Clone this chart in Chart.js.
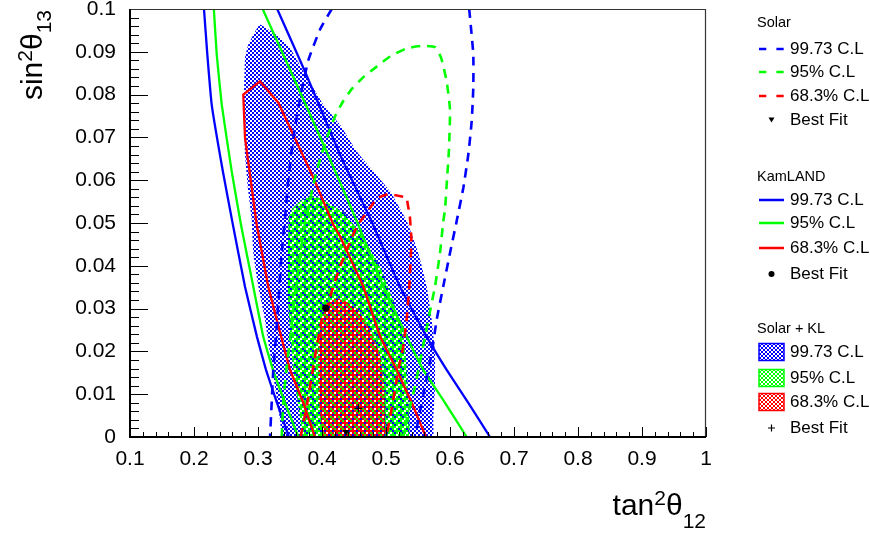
<!DOCTYPE html>
<html>
<head>
<meta charset="utf-8">
<script src="https://cdn.jsdelivr.net/npm/chart.js@4/dist/chart.umd.min.js"></script>
<style>
html,body{margin:0;padding:0;background:#fff;}
#wrap{position:relative;width:870px;height:533px;font-family:'Liberation Sans',Arial,Helvetica,sans-serif;color:#000;overflow:hidden;}
#c{position:absolute;left:0;top:0;}
.ttl{position:absolute;font-size:30px;line-height:30px;white-space:nowrap;}
.ttl .sp{font-size:0.7em;line-height:0;position:relative;top:-0.48em;}
.ttl .sb{font-size:0.7em;line-height:0;position:relative;top:0.62em;}
#ytitle{left:16.6px;top:210px;width:200px;text-align:right;transform-origin:0 0;transform:rotate(-90deg);}
#ytitle .sb{top:0.42em;}
#xtitle{right:164px;top:490px;}
.lg{position:absolute;white-space:nowrap;line-height:20px;}
.lgh{font-size:14.5px;}
.lgr{font-size:17px;}
.sw{position:absolute;}
</style>
</head>
<body>
<div id="wrap">
  <canvas id="c" width="870" height="533"></canvas>
  <div id="ytitle" class="ttl">sin<span class="sp">2</span>θ<span class="sb">13</span></div>
  <div id="xtitle" class="ttl">tan<span class="sp">2</span>θ<span class="sb">12</span></div>
  <div id="legend"></div>
</div>
<script>
// ---------- axis ticks ----------
const xTickValues = [0.1, 0.2, 0.3, 0.4, 0.5, 0.6, 0.7, 0.8, 0.9, 1.0];
const xTickLabels = ['0.1', '0.2', '0.3', '0.4', '0.5', '0.6', '0.7', '0.8', '0.9', '1'];
const yTickValues = [0, 0.01, 0.02, 0.03, 0.04, 0.05, 0.06, 0.07, 0.08, 0.09, 0.1];
const yTickLabels = ['0', '0.01', '0.02', '0.03', '0.04', '0.05', '0.06', '0.07', '0.08', '0.09', '0.1'];

// ---------- Solar (dashed contours) [tan2theta12, sin2theta13] ----------
const solar997Left = [[0.4152,0.1],[0.3969,0.0952],[0.3786,0.0880],[0.3656,0.0790],[0.3552,0.0700],[0.3473,0.0600],[0.3422,0.0510],[0.3370,0.0430],[0.3317,0.0313],[0.3281,0.0234],[0.3239,0.0157],[0.3214,0.0080],[0.3188,0]];
const solar997Right = [[0.6300,0.1],[0.6364,0.0894],[0.6364,0.0816],[0.6339,0.0738],[0.6286,0.0660],[0.6208,0.0582],[0.6105,0.0505],[0.6000,0.0430],[0.5895,0.0352],[0.5792,0.0274],[0.5714,0.0196],[0.5609,0.0118],[0.5505,0.0040],[0.5453,0]];
const solar95 = [[0.3370,0],[0.3395,0.0080],[0.3445,0.0161],[0.3500,0.0227],[0.3563,0.0316],[0.3633,0.0395],[0.3711,0.0480],[0.3781,0.0531],[0.3859,0.0586],[0.3945,0.0636],[0.4073,0.0697],[0.4203,0.0749],[0.4328,0.0784],[0.4469,0.0814],[0.4656,0.0842],[0.4859,0.0866],[0.5063,0.0889],[0.5323,0.0908],[0.5578,0.0914],[0.5766,0.0911],[0.5859,0.0887],[0.5948,0.0831],[0.6000,0.0765],[0.5984,0.0672],[0.5953,0.0601],[0.5922,0.0531],[0.5895,0.0504],[0.5844,0.0430],[0.5766,0.0352],[0.5661,0.0274],[0.5558,0.0196],[0.5453,0.0118],[0.5323,0.0040],[0.5270,0]];
const solar683 = [[0.3665,0],[0.3761,0.0071],[0.3839,0.0141],[0.3917,0.0211],[0.3995,0.0274],[0.4098,0.0313],[0.4177,0.0352],[0.4281,0.0398],[0.4386,0.0437],[0.4542,0.0492],[0.4672,0.0519],[0.4855,0.0558],[0.5036,0.0568],[0.5323,0.0560],[0.5375,0.0512],[0.5396,0.0465],[0.5390,0.0430],[0.5364,0.0352],[0.5323,0.0274],[0.5270,0.0211],[0.5192,0.0157],[0.5114,0.0087],[0.5036,0.0024],[0.5011,0]];
const solarBest = [[0.4375,0.0012]];

// ---------- KamLAND (solid contours) ----------
const kl997Left = [[0.2156,0.1],[0.2208,0.0894],[0.2277,0.0776],[0.2453,0.0619],[0.2609,0.0495],[0.2797,0.0351],[0.2984,0.0234],[0.3125,0.0157],[0.3297,0.0080],[0.3484,0]];
const kl997Right = [[0.3300,0.1],[0.3734,0.0854],[0.4280,0.0660],[0.4777,0.0503],[0.5219,0.0351],[0.5636,0.0234],[0.5948,0.0157],[0.6286,0.0080],[0.6625,0]];
const kl95Left = [[0.2310,0.1],[0.2355,0.0894],[0.2433,0.0777],[0.2590,0.0620],[0.2734,0.0496],[0.2927,0.0351],[0.3083,0.0234],[0.3234,0.0157],[0.3422,0.0080],[0.3630,0]];
const kl95Right = [[0.3073,0.1],[0.3745,0.0777],[0.4250,0.0606],[0.4547,0.0503],[0.4958,0.0352],[0.5323,0.0235],[0.5583,0.0157],[0.5922,0.0080],[0.6261,0]];
const kl683 = [[0.3890,0],[0.3708,0.0080],[0.3500,0.0157],[0.3292,0.0274],[0.3161,0.0351],[0.2980,0.0496],[0.2797,0.0699],[0.2770,0.0800],[0.3031,0.0831],[0.3317,0.0781],[0.3864,0.0606],[0.4177,0.0496],[0.4281,0.0469],[0.4645,0.0352],[0.4906,0.0235],[0.5167,0.0157],[0.5402,0.0080],[0.5625,0]];
const klBest = [[0.4058,0.0301]];

// ---------- Solar + KL (filled regions) ----------
const comb997 = [[0.3370,0],[0.3344,0.0040],[0.3266,0.0118],[0.3188,0.0197],[0.3109,0.0274],[0.3005,0.0352],[0.2927,0.0430],[0.2902,0.0508],[0.2848,0.0574],[0.2797,0.0660],[0.2781,0.0777],[0.2797,0.0886],[0.2848,0.0917],[0.2953,0.0947],[0.3031,0.0964],[0.3292,0.0940],[0.3500,0.0909],[0.3708,0.0855],[0.4020,0.0777],[0.4281,0.0730],[0.4542,0.0667],[0.4802,0.0621],[0.5063,0.0574],[0.5323,0.0505],[0.5505,0.0430],[0.5636,0.0352],[0.5714,0.0274],[0.5766,0.0197],[0.5766,0.0118],[0.5739,0.0040],[0.5730,0]];
const comb95 = [[0.3703,0],[0.3656,0.0047],[0.3547,0.0164],[0.3469,0.0320],[0.3469,0.0437],[0.3484,0.0515],[0.3552,0.0536],[0.3688,0.0554],[0.3839,0.0562],[0.4000,0.0557],[0.4125,0.0543],[0.4328,0.0526],[0.4594,0.0477],[0.4906,0.0398],[0.5109,0.0320],[0.5266,0.0243],[0.5323,0.0164],[0.5348,0.0087],[0.5348,0]];
const comb683 = [[0.4021,0],[0.3953,0.0080],[0.3945,0.0157],[0.3953,0.0235],[0.4016,0.0283],[0.4098,0.0313],[0.4230,0.0324],[0.4359,0.0318],[0.4563,0.0297],[0.4750,0.0250],[0.4906,0.0192],[0.4969,0.0122],[0.4984,0.0040],[0.4984,0]];
const combBest = [[0.4568,0.0067]];

// ---------- legend texts ----------
const legendGroups = ['Solar', 'KamLAND', 'Solar + KL'];
const legendLabels = ['99.73 C.L', '95% C.L', '68.3% C.L', 'Best Fit'];

// ---------- fill textures (cells of 2x2 pixels, one char per cell) ----------
const BLUE = '#0000ff', GREEN = '#00ff00', RED = '#ff0000';
const pal = {B: BLUE, G: GREEN, R: RED, W: '#ffffff'};
const tileBlue  = ['BW', 'WB'];
const tileGreen = ['GBGW', 'GGWG', 'GWGB', 'BGGG'];
const tileRed   = ['RGRW', 'BRGR', 'RWRG', 'RRBR'];
const keyGreen  = ['GW', 'WG'];
const keyRed    = ['RW', 'WR'];
function makeTile(rows) {
  const n = rows.length;
  const t = document.createElement('canvas');
  t.width = n * 2; t.height = n * 2;
  const g = t.getContext('2d');
  rows.forEach((row, y) => {
    for (let x = 0; x < n; x++) { g.fillStyle = pal[row[x]]; g.fillRect(x * 2, y * 2, 2, 2); }
  });
  return t;
}
const canvas = document.getElementById('c');
const mainCtx = canvas.getContext('2d');
const patBlue = mainCtx.createPattern(makeTile(tileBlue), 'repeat');
const patGreen = mainCtx.createPattern(makeTile(tileGreen), 'repeat');
const patRed = mainCtx.createPattern(makeTile(tileRed), 'repeat');
const keyTiles = [makeTile(tileBlue), makeTile(keyGreen), makeTile(keyRed)];

const pts = arr => arr.map(p => ({x: p[0], y: p[1]}));
const closed = arr => pts(arr.concat([arr[0]]));
const noClip = {left: 0, top: 0, right: 0, bottom: 0};

function fillSet(label, arr, pat, order) {
  return {label, data: closed(arr), fill: 'shape', backgroundColor: pat, borderWidth: 0,
          borderColor: 'rgba(0,0,0,0)', pointRadius: 0, tension: 0.1, order, clip: noClip};
}
function lineSet(label, arr, color, dashed, tension) {
  return {label, data: pts(arr), fill: false, borderColor: color, borderWidth: dashed ? 2.6 : 2.3,
          borderDash: dashed ? [9, 7] : [], pointRadius: 0, tension: tension, order: 5, clip: noClip};
}
function markSet(label, arr, style, radius, rot) {
  return {label, data: pts(arr), showLine: false, pointStyle: style, pointRadius: radius,
          pointRotation: rot, pointBackgroundColor: '#000', pointBorderColor: '#000',
          pointBorderWidth: style === 'cross' ? 1.3 : 0, order: 1};
}

const datasets = [
  fillSet('Solar + KL 99.73 C.L', comb997, patBlue, 12),
  fillSet('Solar + KL 95% C.L', comb95, patGreen, 11),
  fillSet('Solar + KL 68.3% C.L', comb683, patRed, 10),
  lineSet('Solar 99.73 C.L', solar997Left, BLUE, true, 0.15),
  lineSet('Solar 99.73 C.L (b)', solar997Right, BLUE, true, 0.15),
  lineSet('Solar 95% C.L', solar95, GREEN, true, 0.15),
  lineSet('Solar 68.3% C.L', solar683, RED, true, 0),
  lineSet('KamLAND 99.73 C.L', kl997Left, BLUE, false, 0.1),
  lineSet('KamLAND 99.73 C.L (b)', kl997Right, BLUE, false, 0.1),
  lineSet('KamLAND 95% C.L', kl95Left, GREEN, false, 0.1),
  lineSet('KamLAND 95% C.L (b)', kl95Right, GREEN, false, 0.1),
  lineSet('KamLAND 68.3% C.L', kl683, RED, false, 0),
  markSet('Solar Best Fit', solarBest, 'triangle', 3.8, 180),
  markSet('KamLAND Best Fit', klBest, 'circle', 3.6, 0),
  markSet('Solar + KL Best Fit', combBest, 'cross', 4, 0)
];

// ROOT-like frame with inward ticks
const rootAxes = {
  id: 'rootAxes',
  afterDatasetsDraw(chart) {
    const {ctx, chartArea: a, scales} = chart;
    const sx = scales.x, sy = scales.y;
    ctx.save();
    ctx.strokeStyle = '#000';
    ctx.lineWidth = 1;
    ctx.beginPath();
    const xStep = (xTickValues[1] - xTickValues[0]) / 5;
    xTickValues.forEach((v, i) => {
      const p = Math.round(sx.getPixelForValue(v)) + 0.5;
      ctx.moveTo(p, a.bottom); ctx.lineTo(p, a.bottom - 10);
      if (i < xTickValues.length - 1) {
        for (let k = 1; k < 5; k++) {
          const q = Math.round(sx.getPixelForValue(v + k * xStep)) + 0.5;
          ctx.moveTo(q, a.bottom); ctx.lineTo(q, a.bottom - 5);
        }
      }
    });
    const yStep = (yTickValues[1] - yTickValues[0]) / 5;
    yTickValues.forEach((v, i) => {
      const p = Math.round(sy.getPixelForValue(v)) + 0.5;
      ctx.moveTo(a.left, p); ctx.lineTo(a.left + 18, p);
      if (i < yTickValues.length - 1) {
        for (let k = 1; k < 5; k++) {
          const q = Math.round(sy.getPixelForValue(v + k * yStep)) + 0.5;
          ctx.moveTo(a.left, q); ctx.lineTo(a.left + 9, q);
        }
      }
    });
    ctx.stroke();
    ctx.strokeStyle = '#333';
    ctx.lineWidth = 1.2;
    ctx.beginPath();
    ctx.moveTo(a.left, a.top + 0.5); ctx.lineTo(a.right - 0.5, a.top + 0.5); ctx.lineTo(a.right - 0.5, a.bottom);
    ctx.stroke();
    ctx.strokeStyle = '#000';
    ctx.lineWidth = 2;
    ctx.beginPath();
    ctx.moveTo(a.left, a.top); ctx.lineTo(a.left, a.bottom); ctx.lineTo(a.right, a.bottom);
    ctx.stroke();
    ctx.restore();
  }
};

const tickFont = {family: "'Liberation Sans', Arial, Helvetica, sans-serif", size: 21};

new Chart(canvas, {
  type: 'line',
  data: {datasets},
  plugins: [rootAxes],
  options: {
    responsive: false,
    animation: false,
    devicePixelRatio: 1,
    events: [],
    layout: {padding: {left: 0, right: 164, top: 9, bottom: 0}},
    plugins: {legend: {display: false}, tooltip: {enabled: false}},
    scales: {
      x: {
        type: 'linear', min: 0.1, max: 1,
        grid: {display: false}, border: {display: false},
        afterBuildTicks: s => { s.ticks = xTickValues.map(v => ({value: v})); },
        afterFit: s => { s.height = 96; s.paddingLeft = 0; s.paddingRight = 0; },
        ticks: {autoSkip: false, maxRotation: 0, padding: 2, color: '#000', font: tickFont,
                callback: (v, i) => xTickLabels[i]}
      },
      y: {
        type: 'linear', min: 0, max: 0.1,
        grid: {display: false}, border: {display: false},
        afterBuildTicks: s => { s.ticks = yTickValues.map(v => ({value: v})); },
        afterFit: s => { s.width = 130; s.paddingTop = 0; s.paddingBottom = 0; },
        ticks: {autoSkip: false, padding: 6, color: '#000', font: tickFont,
                callback: (v, i) => yTickLabels[i]}
      }
    }
  }
});

// ---------- legend (HTML text + small canvas swatches) ----------
const legendEl = document.getElementById('legend');
const headerY = [22, 175.5, 328];
const rowY = [[49, 72, 96, 120], [200, 223, 248, 274], [352, 378, 402, 428]];
const rowColors = [BLUE, GREEN, RED];

function addText(cls, text, left, cy) {
  const d = document.createElement('div');
  d.className = 'lg ' + cls;
  d.textContent = text;
  d.style.left = left + 'px';
  d.style.top = (cy - 10) + 'px';
  legendEl.appendChild(d);
}
function addSwatch(cy, draw) {
  const cv = document.createElement('canvas');
  cv.width = 32; cv.height = 22;
  cv.className = 'sw';
  cv.style.left = '755px';
  cv.style.top = (cy - 11) + 'px';
  legendEl.appendChild(cv);
  draw(cv.getContext('2d'));
}
legendGroups.forEach((grp, gi) => {
  addText('lgh', grp, 757, headerY[gi]);
  for (let r = 0; r < 4; r++) {
    const cy = rowY[gi][r];
    addText('lgr', legendLabels[r], 790, cy);
    addSwatch(cy, g => {
      g.fillStyle = '#000'; g.strokeStyle = '#000';
      if (r < 3) {
        if (gi === 2) {
          g.fillStyle = g.createPattern(keyTiles[r], 'repeat');
          g.fillRect(4, 2.5, 25, 17);
          g.strokeStyle = rowColors[r]; g.lineWidth = 1.5;
          g.strokeRect(4, 2.5, 25, 17);
        } else {
          g.strokeStyle = rowColors[r]; g.lineWidth = 2.5;
          g.setLineDash(gi === 0 ? [7.3, 10.1] : []);
          g.beginPath(); g.moveTo(4, 11); g.lineTo(29, 11); g.stroke();
        }
      } else {
        const cx = 16.5;
        if (gi === 0) {
          g.beginPath(); g.moveTo(cx - 3, 8.5); g.lineTo(cx + 3, 8.5); g.lineTo(cx, 13.5); g.closePath(); g.fill();
        } else if (gi === 1) {
          g.beginPath(); g.arc(cx, 11, 3, 0, Math.PI * 2); g.fill();
        } else {
          g.lineWidth = 1.2; g.beginPath();
          g.moveTo(cx - 3.5, 11); g.lineTo(cx + 3.5, 11); g.moveTo(cx, 7.5); g.lineTo(cx, 14.5); g.stroke();
        }
      }
    });
  }
});
</script>
</body>
</html>
